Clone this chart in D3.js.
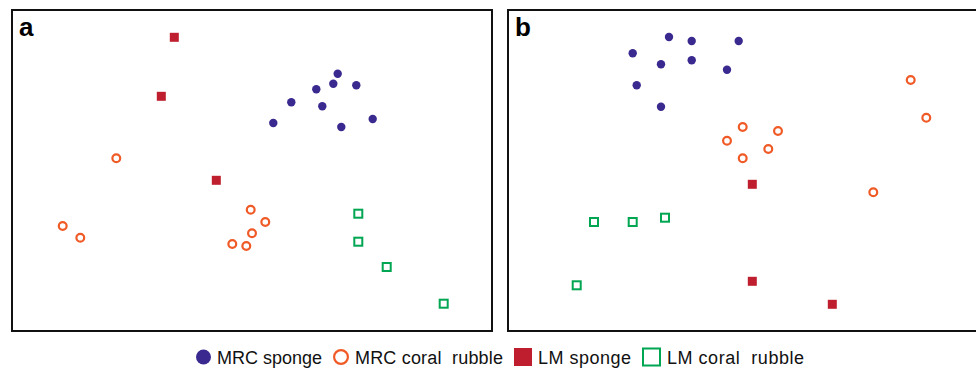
<!DOCTYPE html>
<html>
<head>
<meta charset="utf-8">
<script src="https://cdn.jsdelivr.net/npm/d3@7"></script>
<style>
  body { margin: 0; background: #fff; }
</style>
</head>
<body>
<div class="chart"></div>
<script>
const colours = {
  "MRC sponge": "#3a2a90",
  "MRC coral rubble": "#f05a26",
  "LM sponge": "#be1e2d",
  "LM coral rubble": "#00a651"
};
const groups = ["MRC sponge", "MRC coral rubble", "LM sponge", "LM coral rubble"];

// ordination coordinates (panel units, y up)
const aMrcSponge = [[325.7, 257.3], [321.3, 247.3], [304.3, 241.7], [344.3, 245.7], [279.3, 228.7],
                    [310.3, 224.7], [261.3, 208], [329.3, 204], [360.7, 212]];
const aMrcRubble = [[104.3, 172.7], [50.7, 105], [68.3, 93.3], [238.7, 121.3], [253.3, 109],
                    [240, 97.7], [220.3, 87], [234.3, 85]];
const aLmSponge = [[162.3, 293.7], [149.3, 234.7], [204.3, 150.7]];
const aLmRubble = [[346.3, 117.3], [346.3, 89.3], [374.7, 64], [431.7, 27.3]];

const bMrcSponge = [[161, 294], [183.7, 290], [230.7, 290], [124.7, 277.7], [153, 266.7],
                    [183.7, 270.7], [219, 261.3], [128.7, 245.7], [153, 224.3]];
const bMrcRubble = [[402.7, 251], [418.3, 213.3], [234.7, 204], [270, 200], [219, 190.3],
                    [260.3, 182], [234.7, 172.7], [365.3, 138.7]];
const bLmSponge = [[244.3, 146.7], [244.3, 49.7], [324.3, 26.7]];
const bLmRubble = [[86, 109], [124.7, 109], [157, 113.3], [68.7, 45.7]];

const panels = [
  {label: "a", x0: 12, sets: [aMrcSponge, aMrcRubble, aLmSponge, aLmRubble]},
  {label: "b", x0: 508, sets: [bMrcSponge, bMrcRubble, bLmSponge, bLmRubble]}
];

const width = 976, height = 372;
const panelW = 480, plotTop = 10, plotBottom = 331;
const panelH = plotBottom - plotTop;

const svg = d3.select(".chart").append("svg")
  .attr("width", width)
  .attr("height", height)
  .attr("font-family", "'Liberation Sans', Arial, sans-serif");

function drawSymbol(sel, group, size) {
  // size: half-width of the symbol
  const c = colours[group];
  if (group == "MRC sponge") {
    sel.append("circle").attr("r", size).attr("fill", c);
  } else if (group == "MRC coral rubble") {
    sel.append("circle").attr("r", size - 1.1).attr("fill", "#fff")
      .attr("stroke", c).attr("stroke-width", 2.2);
  } else if (group == "LM sponge") {
    sel.append("rect").attr("x", -size).attr("y", -size)
      .attr("width", size * 2).attr("height", size * 2).attr("fill", c);
  } else {
    sel.append("rect").attr("x", -size + 1).attr("y", -size + 1)
      .attr("width", size * 2 - 2).attr("height", size * 2 - 2)
      .attr("fill", "#fff").attr("stroke", c).attr("stroke-width", 2);
  }
}

const symbolSize = {"MRC sponge": 4.2, "MRC coral rubble": 5, "LM sponge": 4.5, "LM coral rubble": 5};

panels.forEach(p => {
  const x = d3.scaleLinear().domain([0, panelW]).range([p.x0, p.x0 + panelW]);
  const y = d3.scaleLinear().domain([0, panelH]).range([plotBottom, plotTop]);

  const g = svg.append("g");
  g.append("rect")
    .attr("x", x(0)).attr("y", y(panelH))
    .attr("width", x(panelW) - x(0)).attr("height", y(0) - y(panelH))
    .attr("fill", "none").attr("stroke", "#111").attr("stroke-width", 2);

  p.sets.forEach((pts, i) => {
    const grp = groups[i];
    g.append("g").selectAll("g")
      .data(pts)
      .join("g")
        .attr("transform", d => `translate(${x(d[0])},${y(d[1])})`)
        .each(function() { drawSymbol(d3.select(this), grp, symbolSize[grp]); });
  });

  g.append("text")
    .attr("x", p.x0 + 7)
    .attr("y", 36)
    .attr("font-size", 26)
    .attr("font-weight", "bold")
    .attr("fill", "#000")
    .text(p.label);
});

// legend
const legendSize = {"MRC sponge": 7.5, "MRC coral rubble": 8, "LM sponge": 9, "LM coral rubble": 9.5};
const legendTextW = {"MRC sponge": 105, "MRC coral rubble": 148, "LM sponge": 93, "LM coral rubble": 137};
const legend = svg.append("g").attr("transform", "translate(196,357)");
let lx = 0;
groups.forEach(grp => {
  const item = legend.append("g").attr("transform", `translate(${lx},0)`);
  const s = legendSize[grp];
  drawSymbol(item.append("g").attr("transform", `translate(${s},0)`), grp, s);
  item.append("text")
    .attr("x", 2 * s + 6)
    .attr("y", 7)
    .attr("font-size", 18)
    .attr("fill", "#111")
    .attr("textLength", legendTextW[grp])
    .text(grp.replace("coral rubble", "coral\u00a0 rubble"));
  lx += 2 * s + 6 + legendTextW[grp] + 11;
});
</script>
</body>
</html>
